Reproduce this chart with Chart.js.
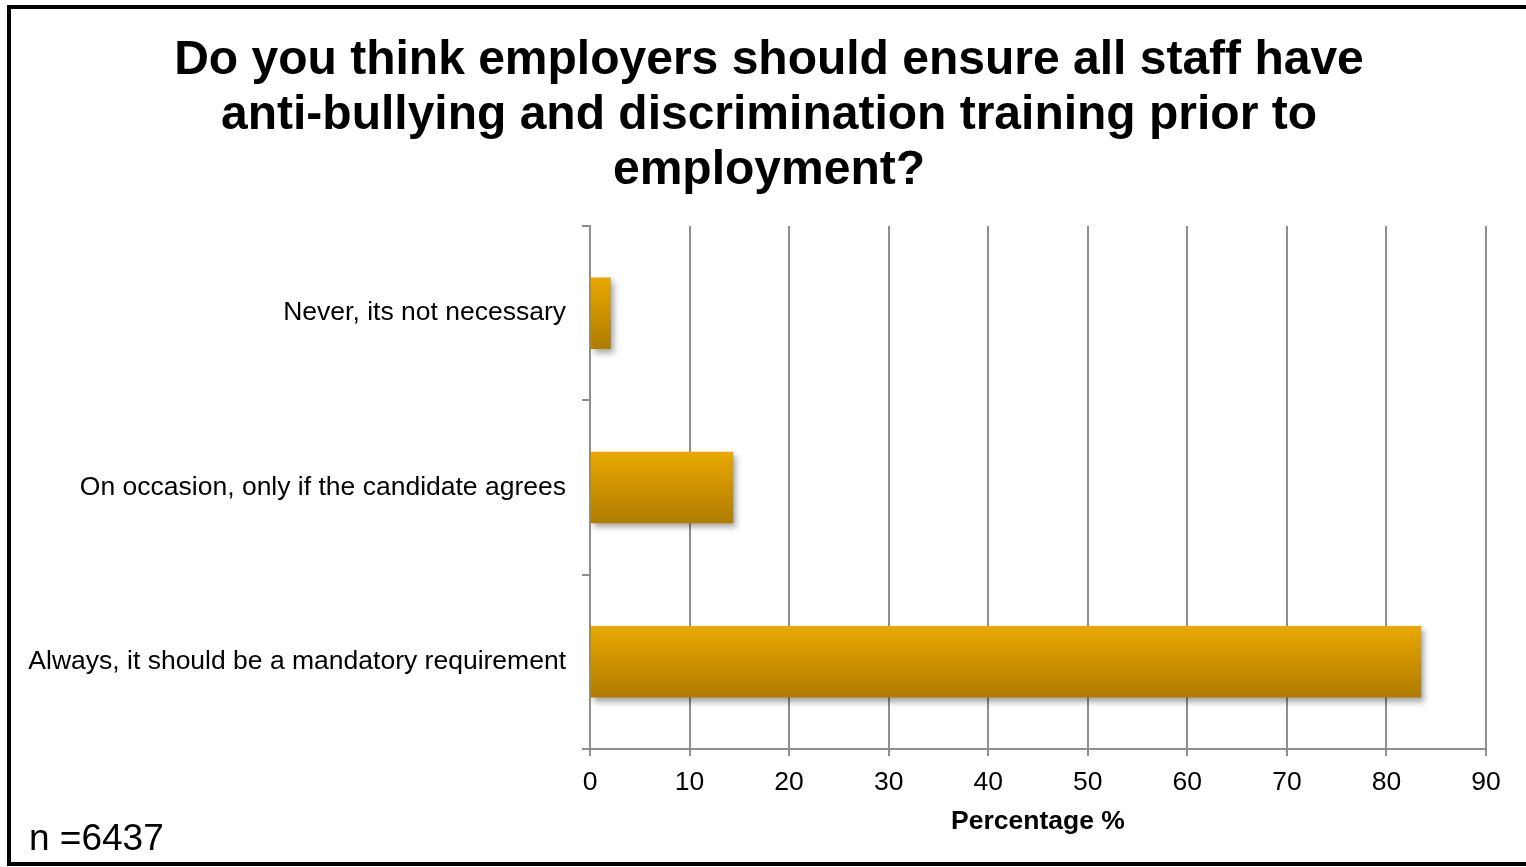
<!DOCTYPE html>
<html>
<head>
<meta charset="utf-8">
<title>Formación anti-acoso</title>
<script src="https://cdn.jsdelivr.net/npm/chart.js@4.4.0/dist/chart.umd.min.js"></script>
<style>
  html, body { margin: 0; padding: 0; background: #fff; overflow: hidden; }
  #marco {
    position: absolute; left: 7px; top: 5px;
    width: 1540px; height: 861px;
    box-sizing: border-box; border: 4px solid #000;
  }
  #grafico { position: absolute; left: 0; top: 0; }
</style>
</head>
<body>
<div id="marco"><canvas id="grafico" width="1516" height="853"></canvas></div>
<script>
// Datos de la encuesta
const categorias = [
  'Never, its not necessary',
  'On occasion, only if the candidate agrees',
  'Always, it should be a mandatory requirement'
];
const porcentajes = [2.1, 14.4, 83.5];
const tituloLineas = [
  'Do you think employers should ensure all staff have',
  'anti-bullying and discrimination training prior to',
  'employment?'
];
const tituloEjeX = 'Percentage %';
const muestra = 'n =6437';
const ejeMin = 0;
const ejeMax = 90;
const ejePaso = 10;

const FUENTE = '"Liberation Sans", Arial, Helvetica, sans-serif';
const GRIS = '#8f8f8f';
const ANCHO_BARRA = 0.41;

// Degradado vertical dorado por cada barra
function colorBarra(ctx) {
  const chart = ctx.chart;
  if (ctx.type !== 'data' || !chart.chartArea) return '#d49a00';
  const escala = chart.scales.y;
  const centro = escala.getPixelForValue(ctx.dataIndex);
  const alto = escala.height / categorias.length * ANCHO_BARRA;
  const g = chart.ctx.createLinearGradient(0, centro - alto / 2, 0, centro + alto / 2);
  g.addColorStop(0, '#e9a900');
  g.addColorStop(1, '#b07b00');
  return g;
}

// Sombra suave bajo las barras
const sombraBarras = {
  id: 'sombraBarras',
  beforeDatasetsDraw(chart) {
    const c = chart.ctx;
    c.save();
    c.shadowColor = 'rgba(0,0,0,0.35)';
    c.shadowBlur = 6;
    c.shadowOffsetX = 3;
    c.shadowOffsetY = 4;
  },
  afterDatasetsDraw(chart) {
    chart.ctx.restore();
  }
};

// Tamaño de la muestra abajo a la izquierda
const textoMuestra = {
  id: 'textoMuestra',
  afterDraw(chart) {
    const c = chart.ctx;
    c.save();
    c.font = '37px ' + FUENTE;
    c.fillStyle = '#000';
    c.textAlign = 'left';
    c.textBaseline = 'alphabetic';
    c.fillText(muestra, 18, 841);
    c.restore();
  }
};

new Chart(document.getElementById('grafico'), {
  type: 'bar',
  data: {
    labels: categorias,
    datasets: [{
      data: porcentajes,
      backgroundColor: colorBarra,
      borderWidth: 0,
      barPercentage: ANCHO_BARRA,
      categoryPercentage: 1
    }]
  },
  options: {
    indexAxis: 'y',
    responsive: false,
    animation: false,
    layout: { padding: 0 },
    plugins: {
      legend: { display: false },
      tooltip: { enabled: false },
      title: {
        display: true,
        text: tituloLineas,
        color: '#000',
        font: { family: FUENTE, size: 48, weight: 'bold', lineHeight: 55 / 48 },
        padding: { top: 24, bottom: 28 }
      }
    },
    scales: {
      x: {
        min: ejeMin,
        max: ejeMax,
        afterFit(scale) { scale.height = 113; },
        ticks: {
          stepSize: ejePaso,
          color: '#000',
          padding: 11,
          font: { family: FUENTE, size: 26.5 }
        },
        grid: { color: GRIS, lineWidth: 2, tickLength: 7, drawOnChartArea: true },
        border: { color: GRIS, width: 2 },
        title: {
          display: true,
          text: tituloEjeX,
          color: '#000',
          font: { family: FUENTE, size: 26.5, weight: 'bold' },
          padding: { top: 4, bottom: 24 }
        }
      },
      y: {
        afterFit(scale) { scale.width = 579; },
        ticks: {
          color: '#000',
          padding: 16,
          font: { family: FUENTE, size: 26.5 }
        },
        grid: { color: GRIS, lineWidth: 2, tickLength: 8, offset: true, drawOnChartArea: false },
        border: { color: GRIS, width: 2 }
      },
      // eje vacío a la derecha que deja el margen tras el 90
      margenDerecho: {
        axis: 'y',
        type: 'category',
        position: 'right',
        afterFit(scale) { scale.width = 41; },
        ticks: { display: false },
        grid: { display: false },
        border: { display: false }
      }
    }
  },
  plugins: [sombraBarras, textoMuestra]
});
</script>
</body>
</html>
